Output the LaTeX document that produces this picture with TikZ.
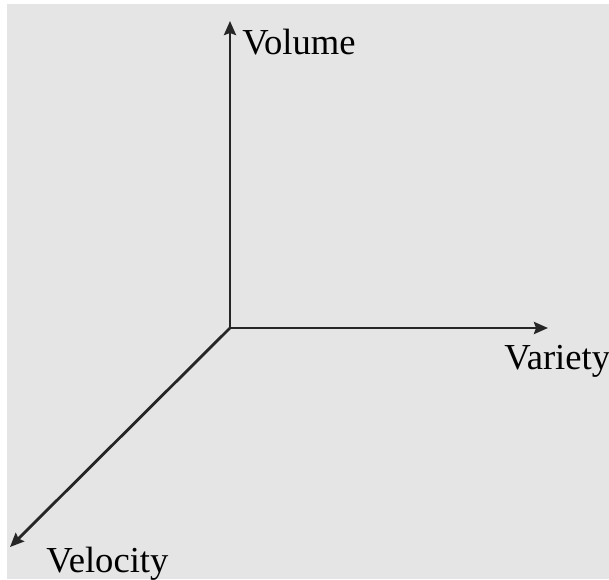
\documentclass[tikz,border=0pt]{standalone}
\usepackage{fontspec}
\setmainfont{Liberation Serif}
\usetikzlibrary{arrows.meta,positioning}
\usepackage{xcolor}
\definecolor{panelgray}{RGB}{229,229,229}

\begin{document}
\begin{tikzpicture}[x=0.5pt, y=-0.5pt, >={Stealth[length=7pt,width=6pt,inset=1pt]},
    axis/.style={->, line width=1.4pt, black!85},
    axlabel/.style={font=\fontsize{18.3}{20}\selectfont, inner sep=0pt, anchor=base west}]
    % Frame
    \useasboundingbox (0,0) rectangle (609,579);
    \fill[panelgray] (7,4) rectangle (609,579);

    % Axes
    \coordinate (origin) at (230,328);
    \coordinate (volend) at (230,21);
    \coordinate (varend) at (548,328);
    \coordinate (velend) at (10,547);
    \draw[axis] (origin) -- (volend);
    \draw[axis] (origin) -- (varend);
    \draw[axis] (origin) -- (velend);

    % Labels
    \node[axlabel] (volume) at (242,54) {Volume};
    \node[axlabel] (variety) at (504,369) {Variety};
    \node[axlabel] (velocity) at (46,572) {Velocity};
\end{tikzpicture}
\end{document}
